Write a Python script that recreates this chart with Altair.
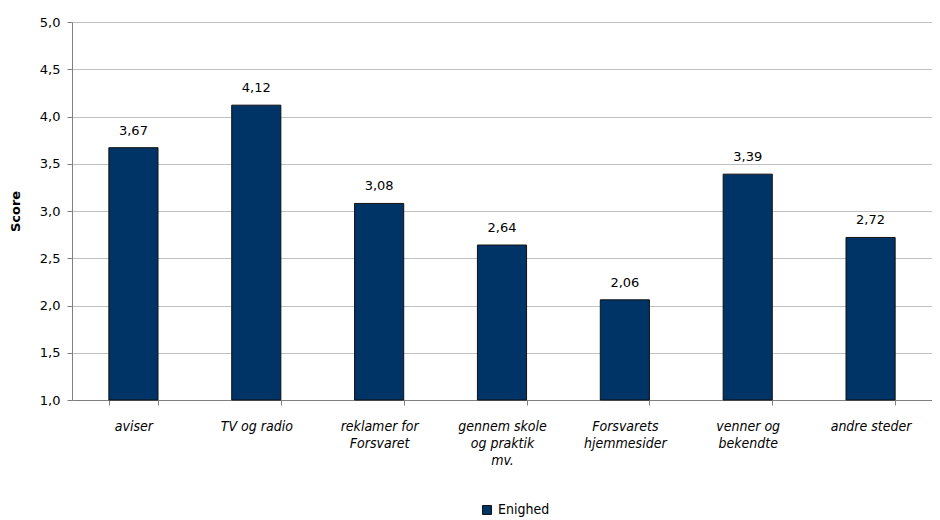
import altair as alt
import pandas as pd

categories = ["aviser", "TV og radio", "reklamer for\nForsvaret", "gennem skole\nog praktik\nmv.",
              "Forsvarets\nhjemmesider", "venner og\nbekendte", "andre steder"]
values = [3.67, 4.12, 3.08, 2.64, 2.06, 3.39, 2.72]
series = ["Enighed"] * len(categories)

df = pd.DataFrame({"cat": categories, "score": values, "serie": series})

NARROW = "'Liberation Sans Narrow', 'DejaVu Sans Condensed', 'Arial Narrow', sans-serif"

x = alt.X("cat:N", sort=categories, title=None,
          scale=alt.Scale(paddingInner=0.6, paddingOuter=0.3),
          axis=alt.Axis(labelAngle=0, labelExpr="split(datum.label, '\\n')",
                        labelFont=NARROW, labelFontStyle="italic",
                        labelFontSize=14, labelColor="#000000", labelLineHeight=17,
                        labelPadding=14, tickBand="extent", tickSize=5,
                        tickColor="#808080", domainColor="#808080", grid=False,
                        labelBaseline="top"))

y = alt.Y("score:Q", title="Score",
          scale=alt.Scale(domain=[1, 5], zero=False, nice=False),
          axis=alt.Axis(values=[1, 1.5, 2, 2.5, 3, 3.5, 4, 4.5, 5],
                        labelExpr="replace(format(datum.value, '.1f'), '.', ',')",
                        labelFont="DejaVu Sans", labelFontSize=13, labelColor="#000000",
                        titleFont="DejaVu Sans", titleFontSize=13, titleFontWeight="bold",
                        titleColor="#000000", titlePadding=17,
                        tickSize=5, tickColor="#808080", domainColor="#808080",
                        gridColor="#c0c0c0", labelPadding=7))

bars = alt.Chart(df).mark_bar(color="#003366", stroke="#111111", strokeWidth=1).encode(
    x=x, y=y, y2=alt.datum(1),
    color=alt.Color("serie:N", scale=alt.Scale(range=["#003366"]), title=None,
                    legend=alt.Legend(orient="none", legendX=408, legendY=481,
                                      symbolType="square", symbolSize=80,
                                      symbolStrokeColor="#111111", symbolStrokeWidth=1,
                                      labelFont=NARROW, labelFontSize=14,
                                      labelColor="#000000"))
)

labels = alt.Chart(df).transform_calculate(
    lab="replace(format(datum.score, '.2f'), '.', ',')"
).mark_text(font="DejaVu Sans", fontSize=13, dy=-10, baseline="bottom", color="#000000").encode(
    x=alt.X("cat:N", sort=categories), y="score:Q", text="lab:N"
)

chart = (bars + labels).properties(
    width=860, height=378,
    autosize=alt.AutoSizeParams(type="none"),
    padding={"left": 64, "top": 14, "right": 0, "bottom": 118},
).configure_view(stroke=None)

chart.save("out.html", embed_options={"renderer": "svg", "actions": False})
